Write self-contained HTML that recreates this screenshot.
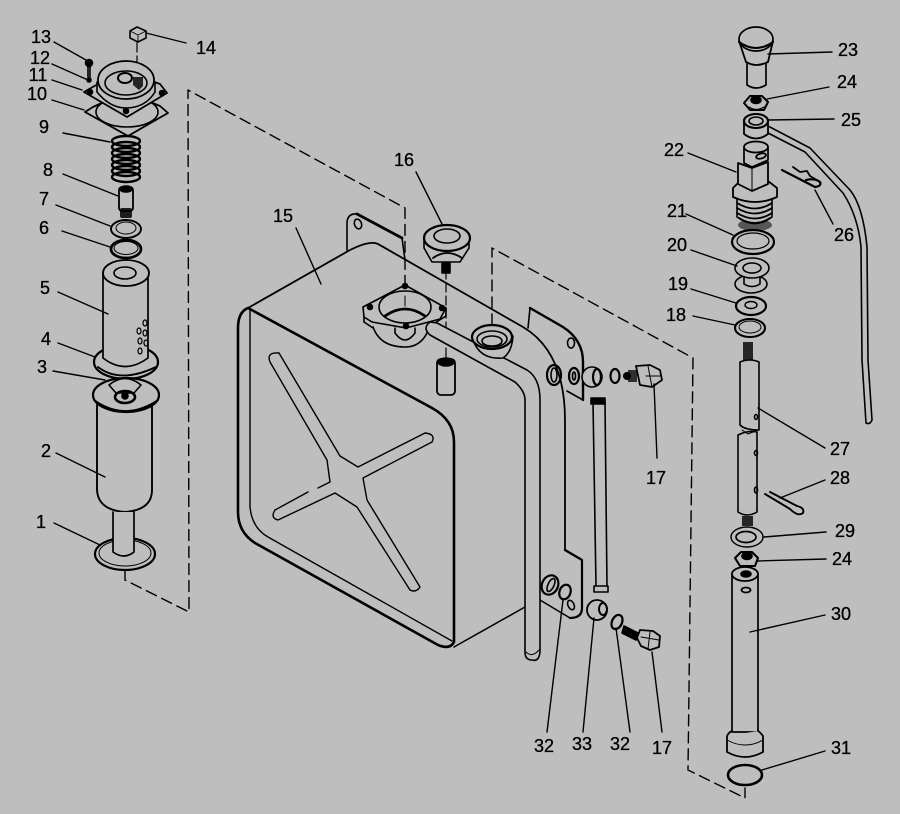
<!DOCTYPE html>
<html>
<head>
<meta charset="utf-8">
<style>
html,body{margin:0;padding:0;background:#bebebe;}
svg{display:block;}
text{font-family:"Liberation Sans",sans-serif;font-size:18px;fill:#000;stroke:#000;stroke-width:.3;text-anchor:middle;}
</style>
</head>
<body>
<svg width="900" height="814" viewBox="0 0 900 814" xmlns="http://www.w3.org/2000/svg">
<rect width="900" height="814" fill="#bebebe"/>
<g fill="none" stroke="#000" stroke-width="1.6" stroke-linecap="round" stroke-linejoin="round">

<!-- dashed phantom lines -->
<g stroke-dasharray="11 6" stroke-width="1.4">
<path d="M125 570V580L189 612L188 90L405 208V290"/>
<path d="M492 325V248L693 358L688 770L745 798V788"/>
</g>
<g stroke-dasharray="9 4" stroke-width="1.2">
<path d="M137 43V70"/>
<path d="M446 270V358"/>
</g>

<!-- tank back plates -->
<path d="M347 250V222Q348 213 357 214L402 238L405 260" />
<path d="M357 214L402 238" stroke-width="2.8"/>
<ellipse cx="358" cy="224" rx="3.5" ry="5" transform="rotate(-20 358 224)"/>
<path d="M528 328L530 308L563 327Q583 340 583 362V400L567 391"/>
<path d="M530 308L563 327Q583 340 583 362V400" stroke-width="2.4"/>
<ellipse cx="571" cy="343" rx="3.5" ry="5"/>
<path d="M565 550L582 560V608Q582 618 570 618L540 600"/>
<path d="M565 550L582 560V608Q582 618 570 618" stroke-width="2.2"/>

<!-- tank body -->
<path d="M248 308L350 250Q370 240 378 244L523 327Q565 352 565 420V550" stroke-width="1.8"/>
<path d="M525 607L454 647" stroke-width="1.5"/>
<path d="M248 308Q238 312 238 328V512Q238 532 255 543L438 645Q450 650 454 642V442Q454 420 432 408L248 308Z" stroke-width="2.6"/>
<path d="M250 310V507Q252 528 268 537L452 641" stroke-width="1.4"/>
<path d="M279 353Q266 352 270 362L327 460L330 482L318 488M308 492L275 510Q270 518 278 520L335 493L357 507L410 590Q416 593 420 587L367 500L363 478L432 442Q436 434 425 433L358 467L340 456L279 353" stroke-width="1.4"/>

<!-- filler flange -->
<path d="M373 327Q380 347 405 347Q420 347 427 333" fill="#bebebe"/>
<path d="M405 285L446 308L440 319L406 328L372 322L364 317L363 307Z" fill="#bebebe"/>
<path d="M364 317V322L373 328M446 308V316L430 326"/>
<ellipse cx="405" cy="307" rx="26" ry="16"/>
<path d="M385 316Q405 302 425 316" stroke-width="2.8"/>
<path d="M395 328V333Q405 347 415 333V328"/>
<circle cx="405" cy="286" r="2.5" fill="#000"/>
<circle cx="370" cy="307" r="2.5" fill="#000"/>
<circle cx="442" cy="308" r="2.5" fill="#000"/>
<circle cx="406" cy="326" r="2.5" fill="#000"/>
<path d="M405 296V306" stroke-width="1"/>

<!-- tube along tank -->
<path d="M437 323L527 370Q540 378 540 400V652Q539 662 532 660Q525 660 525 652V402Q526 392 515 382L430 335Q422 328 430 322Z" fill="#bebebe"/>
<path d="M526 652Q532 658 539 650" stroke-width="1"/>

<!-- filler neck 2 -->
<path d="M473 340Q480 360 503 358Q512 352 513 336" fill="#bebebe"/>
<ellipse cx="492" cy="337" rx="20" ry="12" fill="#bebebe" stroke-width="2.2"/>
<ellipse cx="492" cy="339" rx="15" ry="8"/>
<ellipse cx="492" cy="341" rx="10" ry="5"/>

<!-- cap 16 -->
<path d="M424 240V248L432 262H460L469 248V240" fill="#bebebe"/>
<ellipse cx="447" cy="238" rx="23" ry="13" fill="#bebebe" stroke-width="2.2"/>
<ellipse cx="447" cy="236" rx="13" ry="7"/>
<path d="M433 258Q447 248 462 258" stroke-width="1.8"/>
<rect x="442" y="263" width="8" height="10" fill="#000"/>

<!-- sleeve -->
<rect x="437" y="359" width="18" height="36" rx="4" fill="#bebebe" stroke-width="1.8"/>
<ellipse cx="446" cy="362" rx="8" ry="4" fill="#000"/>

<!-- fittings on tank side -->
<ellipse cx="554" cy="375" rx="7" ry="10" stroke-width="2.2"/>
<ellipse cx="554" cy="375" rx="3" ry="7"/>
<ellipse cx="574" cy="376" rx="5" ry="8" stroke-width="2.2"/>
<ellipse cx="574" cy="376" rx="1.5" ry="4"/>
<circle cx="592" cy="377" r="10" fill="#bebebe"/>
<ellipse cx="597" cy="377" rx="4" ry="8" stroke-width="2.2"/>
<ellipse cx="615" cy="376" rx="4.5" ry="7" stroke-width="2.2"/>
<circle cx="627" cy="376" r="4" fill="#000" stroke="none"/>
<rect x="628" y="370" width="9" height="12" fill="#000" stroke="none" opacity=".75"/>
<path d="M636 366L650 365L660 370L662 380L652 387L640 385Z" fill="#bebebe" stroke-width="1.8"/>
<path d="M648 366L652 387M646 376L661 376" stroke-width="1"/>

<path d="M593 402L596 586M605 402L607 586" stroke-width="1.6"/>
<path d="M591 398H605V404H591Z" fill="#000"/>
<path d="M594 586H608V592H594Z"/>
<circle cx="597" cy="610" r="10" stroke-width="1.8" fill="#bebebe"/>
<ellipse cx="603" cy="609" rx="4" ry="6" stroke-width="2"/>
<ellipse cx="550" cy="585" rx="8" ry="10" stroke-width="2.2" transform="rotate(25 550 585)"/>
<ellipse cx="551" cy="585" rx="3" ry="7" transform="rotate(25 551 585)"/>
<ellipse cx="565" cy="592" rx="5.5" ry="7.5" stroke-width="2.2" transform="rotate(20 565 592)"/>
<ellipse cx="571" cy="605" rx="3" ry="5" transform="rotate(-25 571 605)"/>
<ellipse cx="617" cy="622" rx="5" ry="7.5" stroke-width="2.2" transform="rotate(25 617 622)"/>
<path d="M624 626L640 634L636 640L622 633Z" fill="#000"/>
<path d="M640 630L653 631L660 636L659 647L650 650L641 646L637 638Z" fill="#bebebe" stroke-width="1.8"/>
<path d="M650 632L648 649M641 637L659 640" stroke-width="1"/>

<!-- LEFT ASSEMBLY -->
<path d="M130 31L137 27L146 31V38L138 42L130 38Z" fill="#bebebe" stroke-width="1.6"/>
<path d="M130 31L138 35L146 31M138 35V42" stroke-width=".9"/>
<!-- screw 13,12 -->
<circle cx="89" cy="63" r="3.5" fill="#000"/>
<path d="M88 67V77M90 67V77" stroke-width="1.6"/>
<circle cx="89" cy="80" r="2" fill="#000"/>
<!-- gasket 10 -->
<path d="M85 112L93 107L126 92L160 106L168 113L128 136Z" stroke-width="1.8"/>
<ellipse cx="127" cy="112" rx="31" ry="15"/>
<!-- flange 11 -->
<path d="M84 92L98 84L126 72L160 84L167 93L127 117Z" fill="#bebebe" stroke-width="1.8"/>
<circle cx="90" cy="92" r="2.5" fill="#000"/>
<circle cx="162" cy="93" r="2.5" fill="#000"/>
<circle cx="126" cy="111" r="2.5" fill="#000"/>
<path d="M97 82V92Q110 108 126 108Q145 108 155 92V82" fill="#bebebe"/>
<ellipse cx="126" cy="80" rx="28" ry="19" fill="#bebebe" stroke-width="1.8"/>
<ellipse cx="126" cy="83" rx="21" ry="12"/>
<ellipse cx="125" cy="78" rx="7" ry="5" stroke-width="2"/>
<path d="M133 77H143V86L139 90L133 85Z" fill="#000" stroke="none" opacity=".8"/>
<!-- spring 9 -->
<g stroke-width="2.4">
<ellipse cx="126" cy="141" rx="14" ry="5"/>
<ellipse cx="126" cy="147" rx="14" ry="5"/>
<ellipse cx="126" cy="153" rx="14" ry="5"/>
<ellipse cx="126" cy="159" rx="14" ry="5"/>
<ellipse cx="126" cy="165" rx="14" ry="5"/>
<ellipse cx="126" cy="171" rx="14" ry="5"/>
<ellipse cx="126" cy="177" rx="14" ry="5"/>
</g>
<!-- 8 -->
<rect x="119" y="187" width="14" height="24" rx="3" fill="#bebebe" stroke-width="1.8"/>
<ellipse cx="126" cy="189" rx="6" ry="3" fill="#000"/>
<rect x="120" y="208" width="12" height="10" rx="2" fill="#000" opacity=".85" stroke="none"/>
<!-- 7, 6 -->
<ellipse cx="126" cy="229" rx="15" ry="9" stroke-width="1.9"/>
<ellipse cx="126" cy="228" rx="10" ry="6" stroke-width="1"/>
<ellipse cx="126" cy="249" rx="15" ry="9" stroke-width="2.7"/>
<ellipse cx="126" cy="248" rx="12" ry="6.5" stroke-width="1"/>
<!-- 4 flange -->
<ellipse cx="126" cy="362" rx="32" ry="17" stroke-width="2.2"/>
<path d="M98 367Q120 384 156 367" stroke-width="1.8"/>
<!-- 5 -->
<path d="M103 273V358Q125 375 148 358V273" fill="#bebebe" stroke-width="1.7"/>
<ellipse cx="126" cy="273" rx="23" ry="13" fill="#bebebe" stroke-width="1.8"/>
<ellipse cx="125" cy="273" rx="11" ry="6"/>
<g stroke-width="1.2">
<ellipse cx="145" cy="323" rx="2" ry="3"/>
<ellipse cx="139" cy="331" rx="2" ry="3"/>
<ellipse cx="145" cy="333" rx="2" ry="3"/>
<ellipse cx="140" cy="341" rx="2" ry="3"/>
<ellipse cx="146" cy="343" rx="2" ry="3"/>
<ellipse cx="140" cy="351" rx="2" ry="3"/>
</g>
<!-- 2 -->
<path d="M97 405V490Q98 510 125 512Q152 510 152 490V405" fill="#bebebe" stroke-width="1.9"/>
<ellipse cx="126" cy="395" rx="33" ry="17" fill="#bebebe" stroke-width="2.2"/>
<path d="M94 400Q125 422 158 400" stroke-width="1.7"/>
<path d="M109 385Q125 372 141 385L134 393H116Z" fill="#bebebe"/>
<ellipse cx="125" cy="397" rx="10" ry="6" stroke-width="2.6"/>
<circle cx="125" cy="396" r="3" fill="#000"/>
<!-- 1 -->
<ellipse cx="125" cy="554" rx="30" ry="16" stroke-width="2.2"/>
<ellipse cx="125" cy="553" rx="26" ry="13" stroke-width="1"/>
<path d="M113 512V552Q124 560 134 552V512" fill="#bebebe" stroke-width="1.7"/>

<!-- RIGHT ASSEMBLY -->
<!-- long pipe -->
<path d="M768 126L810 148L850 190Q863 206 867 247L868 360L872 420Q870 425 866 423L862 360L861 247Q858 216 843 193L805 152L768 133" stroke-width="1.6"/>
<!-- 23 -->
<path d="M739 41L746 62Q756 68 768 62L773 41" fill="#bebebe" stroke-width="1.8"/>
<ellipse cx="756" cy="39" rx="17" ry="12" fill="#bebebe" stroke-width="1.7"/>
<path d="M739 42Q756 54 773 42" stroke-width="2"/>
<path d="M747 64V85Q756 91 766 85V64" fill="#bebebe" stroke-width="1.7"/>
<path d="M746 62Q756 68 768 62" stroke-width="1.8"/>
<!-- 24 top -->
<path d="M744 103L750 96H762L768 102L764 110H750Z" fill="#bebebe" stroke-width="2"/>
<ellipse cx="756" cy="100" rx="5" ry="3.5" fill="#000"/>
<path d="M749 107Q756 112 764 107" stroke-width="1.2"/>
<!-- 25 -->
<path d="M744 122V134Q756 143 768 134V122" fill="#bebebe" stroke-width="1.8"/>
<ellipse cx="756" cy="121" rx="12" ry="7" fill="#bebebe" stroke-width="2.1"/>
<ellipse cx="756" cy="121" rx="7" ry="4"/>
<!-- 22 -->
<ellipse cx="755" cy="225" rx="17" ry="6" fill="#000" opacity=".55" stroke="none"/>
<path d="M737 197V217Q755 230 772 217V197" fill="#bebebe" stroke-width="1.6"/>
<g stroke-width="1.8">
<path d="M737 203Q755 214 772 203"/>
<path d="M737 208Q755 219 772 208"/>
<path d="M737 213Q755 224 772 213"/>
<path d="M739 218Q755 228 770 218"/>
</g>
<path d="M733 188V197Q755 207 777 197V188L768 181H740Z" fill="#bebebe" stroke-width="1.8"/>
<path d="M738 163V184L752 191L768 184V162L752 168Z" fill="#bebebe" stroke-width="1.8"/>
<path d="M752 168V191" stroke-width="1"/>
<path d="M744 148V163L752 167L768 160V148" fill="#bebebe" stroke-width="1.7"/>
<ellipse cx="756" cy="147" rx="12" ry="5.5" fill="#bebebe" stroke-width="1.8"/>
<ellipse cx="761" cy="156" rx="5" ry="2.5" transform="rotate(-15 761 156)" stroke-width="1.8"/>
<!-- 26 clip -->
<path d="M782 170L815 187Q822 186 820 182Q815 178 806 180" stroke-width="2.2"/>
<path d="M793 167L800 172L807 171L810 176L820 182" stroke-width="1.8"/>
<!-- 21 -->
<ellipse cx="753" cy="242" rx="21" ry="12" stroke-width="2.2"/>
<ellipse cx="753" cy="241" rx="16" ry="8" stroke-width="1.2"/>
<!-- 20 -->
<ellipse cx="751" cy="284" rx="16" ry="9"/>
<path d="M744 276V284Q752 289 760 284V276" fill="#bebebe"/>
<ellipse cx="752" cy="268" rx="17" ry="10" fill="#bebebe" stroke-width="1.6"/>
<ellipse cx="752" cy="268" rx="9" ry="5"/>
<!-- 19 -->
<ellipse cx="751" cy="306" rx="15" ry="9" stroke-width="2.2"/>
<ellipse cx="751" cy="305" rx="6" ry="3.5" stroke-width="1.4"/>
<!-- 18 -->
<ellipse cx="750" cy="328" rx="15" ry="9" stroke-width="2.1"/>
<ellipse cx="750" cy="327" rx="11" ry="6" stroke-width="1"/>
<!-- 27 -->
<rect x="743" y="342" width="10" height="19" fill="#000" opacity=".8" stroke="none"/>
<path d="M740 362V425Q745 430 759 430V362Q750 358 740 362Z" fill="#bebebe" stroke-width="1.6"/>
<path d="M738 435V512Q747 518 757 512V432Q748 430 738 435Z" fill="#bebebe" stroke-width="1.6"/>
<path d="M742 430L748 434L758 430" stroke-width="1"/>
<ellipse cx="756" cy="417" rx="1.5" ry="2.5"/>
<ellipse cx="756" cy="453" rx="1.5" ry="2.5"/>
<ellipse cx="756" cy="490" rx="1.5" ry="3"/>
<rect x="742" y="516" width="11" height="10" fill="#000" opacity=".8" stroke="none"/>
<!-- 28 -->
<path d="M765 494L790 509Q798 517 803 513Q805 508 797 506L770 492" stroke-width="1.9"/>
<!-- 29 -->
<ellipse cx="747" cy="537" rx="16" ry="10" stroke-width="1.4"/>
<ellipse cx="746" cy="537" rx="10" ry="5.5" stroke-width="1.7"/>
<!-- 24 lower -->
<path d="M735 558L741 552H752L758 558L755 566H740Z" fill="#bebebe" stroke-width="2.1"/>
<ellipse cx="747" cy="556" rx="5" ry="3.5" fill="#000"/>
<!-- 30 -->
<path d="M732 574V732H758V574" fill="#bebebe" stroke-width="1.7"/>
<ellipse cx="745" cy="574" rx="13" ry="7" fill="#bebebe" stroke-width="1.8"/>
<ellipse cx="746" cy="574" rx="5" ry="3" fill="#000"/>
<ellipse cx="746" cy="590" rx="4.5" ry="2.5" stroke-width="1.8"/>
<path d="M727 736V752Q745 762 763 752V736Q760 732 758 731M732 731Q729 732 727 736" fill="#bebebe" stroke-width="1.8"/>
<path d="M727 740Q745 750 763 740" stroke-width="1"/>
<!-- 31 -->
<ellipse cx="745" cy="775" rx="17" ry="10" stroke-width="2.6"/>

<!-- LEADER LINES -->
<g stroke-width="1.4">
<path d="M54 42L86 60"/>
<path d="M52 64L88 80"/>
<path d="M52 80L82 90"/>
<path d="M52 100L84 110"/>
<path d="M63 133L110 142"/>
<path d="M63 174L118 196"/>
<path d="M56 205L110 226"/>
<path d="M62 231L110 247"/>
<path d="M58 292L108 314"/>
<path d="M58 343L95 357"/>
<path d="M53 371L105 380"/>
<path d="M56 453L105 477"/>
<path d="M54 523L100 545"/>
<path d="M146 33L186 43"/>
<path d="M296 228L321 284"/>
<path d="M416 172L442 224"/>
<path d="M654 384L657 458"/>
<path d="M563 600L547 732"/>
<path d="M594 618L583 732"/>
<path d="M616 628L630 732"/>
<path d="M652 652L662 732"/>
<path d="M768 54L832 52"/>
<path d="M767 99L829 87"/>
<path d="M768 120L834 119"/>
<path d="M688 153L736 172"/>
<path d="M815 190L833 224"/>
<path d="M686 214L733 235"/>
<path d="M691 250L737 266"/>
<path d="M691 289L736 303"/>
<path d="M693 316L735 325"/>
<path d="M758 408L825 448"/>
<path d="M780 498L825 480"/>
<path d="M764 537L826 532"/>
<path d="M757 561L826 559"/>
<path d="M750 632L825 615"/>
<path d="M762 770L825 751"/>
</g>
</g>

<!-- LABELS -->
<text x="41" y="43">13</text>
<text x="40" y="64">12</text>
<text x="38" y="81">11</text>
<text x="37" y="100">10</text>
<text x="44" y="133">9</text>
<text x="48" y="176">8</text>
<text x="44" y="205">7</text>
<text x="44" y="234">6</text>
<text x="45" y="294">5</text>
<text x="46" y="345">4</text>
<text x="42" y="373">3</text>
<text x="46" y="457">2</text>
<text x="41" y="528">1</text>
<text x="206" y="54">14</text>
<text x="283" y="222">15</text>
<text x="404" y="166">16</text>
<text x="656" y="484">17</text>
<text x="544" y="752">32</text>
<text x="582" y="750">33</text>
<text x="620" y="750">32</text>
<text x="662" y="754">17</text>
<text x="848" y="56">23</text>
<text x="847" y="88">24</text>
<text x="851" y="126">25</text>
<text x="674" y="156">22</text>
<text x="844" y="241">26</text>
<text x="677" y="217">21</text>
<text x="677" y="251">20</text>
<text x="678" y="290">19</text>
<text x="676" y="321">18</text>
<text x="840" y="455">27</text>
<text x="840" y="484">28</text>
<text x="845" y="537">29</text>
<text x="842" y="565">24</text>
<text x="841" y="620">30</text>
<text x="841" y="754">31</text>
</svg>
</body>
</html>
